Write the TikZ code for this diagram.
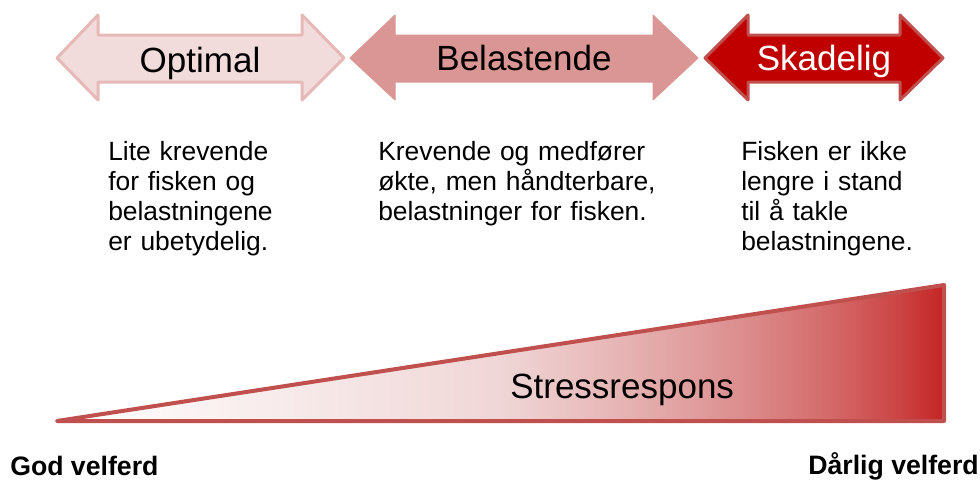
\documentclass[tikz,border=0pt]{standalone}
\usepackage{fontspec}
\setmainfont{Liberation Sans}
\definecolor{optfill}{HTML}{F2DCDB}
\definecolor{optline}{HTML}{E6B9B8}
\definecolor{belfill}{HTML}{D99694}
\definecolor{skafill}{HTML}{C00000}
\definecolor{skaline}{HTML}{C0504D}
\definecolor{wedgeline}{HTML}{C0504D}
\definecolor{sA}{HTML}{F6E6E6}
\definecolor{sB}{HTML}{F0D6D6}
\definecolor{sC}{HTML}{E6B4B4}
\definecolor{sD}{HTML}{DC8E8E}
\definecolor{sE}{HTML}{D46A6A}
\definecolor{sF}{HTML}{CC4444}
\definecolor{sG}{HTML}{C42424}
\pgfdeclarehorizontalshading{stressshade}{100bp}{color(0bp)=(white); color(25bp)=(white); color(40.5bp)=(sA); color(50bp)=(sB); color(56.75bp)=(sC); color(63.5bp)=(sD); color(68.5bp)=(sE); color(72.5bp)=(sF); color(75bp)=(sG); color(100bp)=(sG)}
\begin{document}
\begin{tikzpicture}[x=0.75pt,y=-0.75pt,
  bigtext/.style={font=\fontsize{26.25}{30}\selectfont, inner sep=0pt},
  bodytext/.style={font=\fontsize{19.8}{22.5}\selectfont, inner sep=0pt, align=left, text width=320pt, anchor=base west},
  endtext/.style={font=\fontsize{20}{24}\selectfont\bfseries, inner sep=0pt},
  arrowshape/.style={line width=2.25pt, line join=round}]
\useasboundingbox (0,0) rectangle (980,479);
% arrows
\draw[arrowshape, draw=optline, fill=optfill] (57,58) -- (98,15) -- (98,35) -- (302,35) -- (302,15) -- (344,58) -- (302,100) -- (302,82) -- (98,82) -- (98,100) -- cycle;
\draw[arrowshape, draw=belfill, fill=belfill, line width=0.75pt] (350,58) -- (395,15) -- (395,35) -- (653,35) -- (653,15) -- (698,58) -- (653,100) -- (653,82) -- (395,82) -- (395,100) -- cycle;
\draw[arrowshape, draw=skaline, fill=skafill] (705,58) -- (748,15) -- (748,35) -- (900,35) -- (900,15) -- (943,58) -- (900,100) -- (900,82) -- (748,82) -- (748,100) -- cycle;
\node[bigtext, anchor=base] (opt) at (200,72) {Optimal};
\node[bigtext, anchor=base] (bel) at (524,70) {Belastende};
\node[bigtext, anchor=base, text=white] (ska) at (824,70) {Skadelig};
% descriptions
\node[bodytext] (t1) at (108,160) {Lite krevende\\for fisken og\\belastningene\\er ubetydelig.};
\node[bodytext] (t2) at (378,160) {Krevende og medfører\\økte, men håndterbare,\\belastninger for fisken.};
\node[bodytext] (t3) at (741,160) {Fisken er ikke\\lengre i stand\\til å takle\\belastningene.};
% wedge
\path[shading=stressshade] (57,421) -- (944,285) -- (944,421) -- cycle;
\draw[draw=wedgeline, line width=3pt, line join=round] (57,421) -- (944,285) -- (944,421) -- cycle;
\node[bigtext, anchor=base west] (stress) at (510,398) {Stressrespons};
\node[endtext, anchor=base west] (god) at (10,475) {God velferd};
\node[endtext, anchor=base east] (darlig) at (979,474) {Dårlig velferd};
\end{tikzpicture}
\end{document}
